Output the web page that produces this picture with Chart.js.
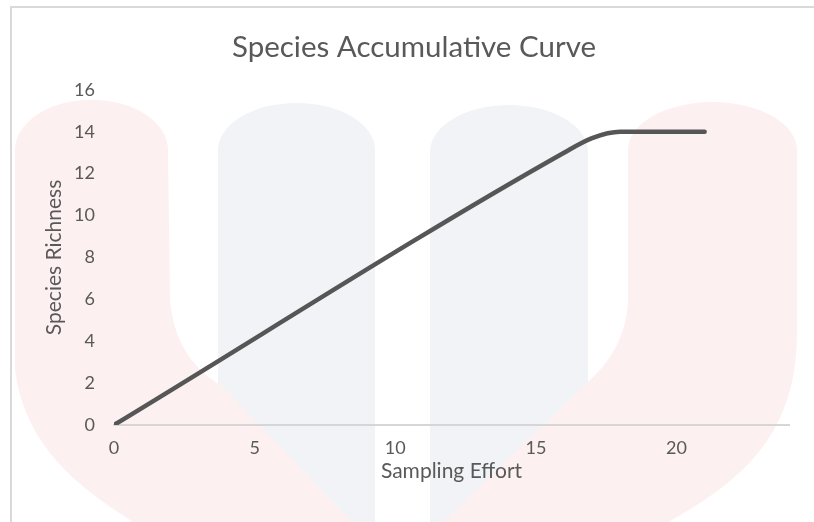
<!DOCTYPE html>
<html>
<head>
<meta charset="utf-8">
<script src="https://cdn.jsdelivr.net/npm/chart.js@4/dist/chart.umd.min.js"></script>
<style>
  html, body { margin: 0; padding: 0; background: #fff; }
  #wrap { position: relative; width: 814px; height: 522px; overflow: hidden; }
  #bg { position: absolute; left: 0; top: 0; }
  #myChart { position: absolute; left: 0; top: 0; }
</style>
</head>
<body>
<div id="wrap">
  <!-- faint watermark behind the chart -->
  <svg id="bg" width="814" height="522">
    <path d="M218,150 A78.5,47 0 0 1 375,150 L375,522 L218,522 Z" fill="#f1f3f7"/>
    <path d="M430,152 A79,47 0 0 1 588,152 L588,522 L430,522 Z" fill="#f1f3f7"/>
    <path d="M15,150 A76,50 0 0 1 168,150 L170,300 C174,345 195,370 222,386 L352,522 L133,522 C75,485 25,445 15,370 Z" fill="#fdf0f0"/>
    <path d="M628,150 A84.5,48 0 0 1 797,150 L797,330 C797,420 760,472 668,522 L443,522 L590,380 C610,362 627,335 628,300 Z" fill="#fdf0f0"/>
    <line x1="11" y1="7" x2="11" y2="522" stroke="#d9d9d9" stroke-width="2"/>
    <line x1="10" y1="7" x2="814" y2="7" stroke="#d9d9d9" stroke-width="2"/>
  </svg>
  <canvas id="myChart" width="814" height="522"></canvas>
</div>
<script>
// sampling effort vs species richness
const effort = [0, 16, 17, 18, 21];
const richness = [0, 13, 13.7, 14, 14];
const xTicks = [0, 5, 10, 15, 20];
const yTicks = [0, 2, 4, 6, 8, 10, 12, 14, 16];

const grey = '#595959';
const font = 'Lato, "Open Sans", sans-serif';

const ctx = document.getElementById('myChart').getContext('2d');
new Chart(ctx, {
    type: 'scatter',
    data: {
        datasets: [{
            label: 'Species Richness',
            data: effort.map((x, i) => ({ x: x, y: richness[i] })),
            showLine: true,
            borderColor: '#565656',
            borderWidth: 4.5,
            borderCapStyle: 'round',
            borderJoinStyle: 'round',
            cubicInterpolationMode: 'monotone',
            pointRadius: 0,
            pointHoverRadius: 0
        }]
    },
    options: {
        responsive: false,
        animation: false,
        devicePixelRatio: 1,
        layout: { padding: { left: 39, right: 25, top: 0, bottom: 0 } },
        plugins: {
            legend: { display: false },
            tooltip: { enabled: false },
            title: {
                display: true,
                text: 'Species Accumulative Curve',
                color: grey,
                font: { family: font, size: 29.5, weight: 'normal' },
                padding: { top: 30, bottom: 24.5 }
            }
        },
        scales: {
            x: {
                type: 'linear',
                min: 0,
                max: 24,
                grid: { display: false },
                border: { display: true, color: '#d6d6d6', width: 2 },
                afterBuildTicks: scale => { scale.ticks = xTicks.map(v => ({ value: v })); },
                afterFit: scale => { scale.height = 97; },
                ticks: { color: grey, padding: 4, font: { family: font, size: 18 } },
                title: {
                    display: true,
                    text: 'Sampling Effort',
                    color: grey,
                    font: { family: font, size: 21 },
                    padding: { top: 0, bottom: 38 }
                }
            },
            y: {
                min: 0,
                max: 16,
                grid: { display: false },
                border: { display: false },
                afterBuildTicks: scale => { scale.ticks = yTicks.map(v => ({ value: v })); },
                afterFit: scale => { scale.width = 75; },
                ticks: { color: grey, padding: 11, font: { family: font, size: 18 } },
                title: {
                    display: true,
                    text: 'Species Richness',
                    color: grey,
                    font: { family: font, size: 21 },
                    padding: { top: 3, bottom: 0 }
                }
            }
        }
    }
});
</script>
</body>
</html>
